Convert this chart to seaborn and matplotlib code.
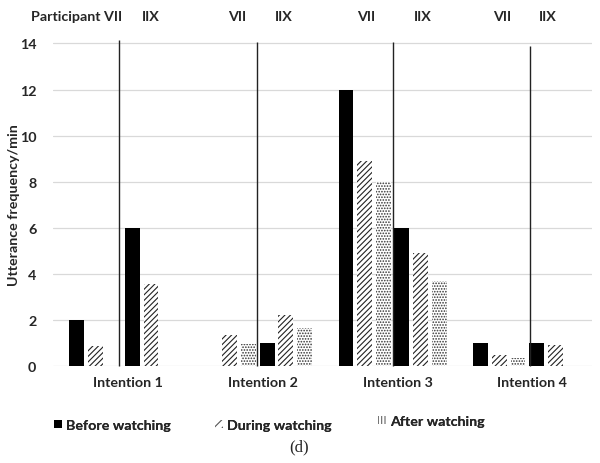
import numpy as np
import pandas as pd
import matplotlib
matplotlib.use("Agg")
import matplotlib.pyplot as plt
import matplotlib.transforms as mtransforms
from matplotlib.patches import Patch
import seaborn as sns

# data
intentions = ["Intention 1", "Intention 2", "Intention 3", "Intention 4"]
vii_before = [2.0, 0.0, 12.0, 1.0]
vii_during = [0.88, 1.33, 8.88, 0.46]
vii_after = [0.0, 0.97, 8.0, 0.36]
iix_before = [6.0, 1.0, 6.0, 1.0]
iix_during = [3.57, 2.2, 4.92, 0.93]
iix_after = [0.0, 1.63, 3.69, 0.0]

phases = ["Before watching", "During watching", "After watching"]

# separator lines between participants (data x, top)
sep_x = [-0.031, 0.991, 2.006, 3.021]
sep_top = [14.15, 14.08, 14.08, 13.9]

# participant label positions along x
vii_label_x = [-0.009, 0.850, 1.806, 2.813]
iix_label_x = [0.206, 1.191, 2.221, 3.154]

series = {
    "VII Before": vii_before, "VII During": vii_during, "VII After": vii_after,
    "IIX Before": iix_before, "IIX During": iix_during, "IIX After": iix_after,
}
rows = []
for name, vals in series.items():
    for cat, v in zip(intentions, vals):
        rows.append({"intention": cat, "series": name, "value": v})
df = pd.DataFrame(rows)
hue_order = list(series.keys())

sns.set_style("white")
plt.rcParams["font.family"] = ["Lato", "DejaVu Sans"]
plt.rcParams["hatch.linewidth"] = 0.8
FS = 10.3

fig = plt.figure(figsize=(6, 4.64), dpi=100)
ax = fig.add_axes([53 / 600, 1 - 367 / 464, 539 / 600, 326 / 464])

sns.barplot(data=df, x="intention", y="value", hue="series", hue_order=hue_order,
            palette=["black", "white", "white"] * 2, saturation=1,
            width=0.83, gap=0.2, legend=False, ax=ax, errorbar=None)

styles = {
    "Before": dict(facecolor="black", edgecolor="black", hatch=None),
    "During": dict(facecolor="white", edgecolor="#222222", hatch="//////"),
    "After": dict(facecolor="white", edgecolor="#333333", hatch="......"),
}
for name, cont in zip(hue_order, ax.containers):
    st = styles[name.split()[1]]
    for bar in cont:
        bar.set_facecolor(st["facecolor"])
        bar.set_edgecolor(st["edgecolor"])
        bar.set_linewidth(0)
        if st["hatch"]:
            bar.set_hatch(st["hatch"])

ax.vlines(sep_x, 0, sep_top, color="#222222", linewidth=1.0, clip_on=False, zorder=3)

ax.set_xlim(-0.52, 3.48)
ax.set_ylim(0, 14.15)
ax.set_yticks(np.arange(0, 15, 2))
ax.yaxis.grid(True, color="#d9d9d9", linewidth=0.9)
ax.set_axisbelow(True)
for s in ax.spines.values():
    s.set_visible(False)
ax.tick_params(axis="both", length=0, labelsize=FS)
ax.tick_params(axis="x", pad=7)
ax.tick_params(axis="y", pad=12)
for lab in ax.get_xticklabels() + ax.get_yticklabels():
    lab.set_fontweight("bold")
for lab in ax.get_xticklabels():
    lab.set_transform(lab.get_transform() +
                      mtransforms.ScaledTranslation(5 / 100, 0, fig.dpi_scale_trans))

ax.set_xlabel("")
ax.set_ylabel("Utterance frequency/min", fontsize=FS, fontweight="bold")
ax.yaxis.set_label_coords(-0.062, 0.497)

# participant labels on top
trans = mtransforms.blended_transform_factory(ax.transData, fig.transFigure)
ytop = 1 - 17 / 464
for i, (xv, xi) in enumerate(zip(vii_label_x, iix_label_x)):
    if i == 0:
        ax.text(xv, ytop, "Participant VII", transform=trans, ha="right", va="center",
                fontsize=FS, fontweight="bold")
    else:
        ax.text(xv, ytop, "VII", transform=trans, ha="center", va="center",
                fontsize=FS, fontweight="bold")
    ax.text(xi, ytop, "IIX", transform=trans, ha="center", va="center",
            fontsize=FS, fontweight="bold")

# legend: one small legend per entry, placed like the original
handles = [
    Patch(facecolor="black", edgecolor="black", linewidth=0),
    Patch(facecolor="white", edgecolor="#555555", hatch="////", linewidth=0),
    Patch(facecolor="white", edgecolor="#666666", hatch="|||||", linewidth=0),
]
leg_pos = [(47, 426), (208, 426), (371, 422)]
for h, lab, (px, py) in zip(handles, phases, leg_pos):
    lg = fig.legend([h], [lab], loc="center left", bbox_to_anchor=(px / 600, 1 - py / 464),
                    frameon=False, borderpad=0, handlelength=0.55, handleheight=0.55,
                    handletextpad=0.3, prop={"size": FS, "weight": "bold"})
    fig.add_artist(lg)

fig.text(299 / 600, 1 - 447 / 464, "(d)", ha="center", va="center",
         fontsize=12, family="Liberation Serif")

fig.savefig("out.png", dpi=100)
